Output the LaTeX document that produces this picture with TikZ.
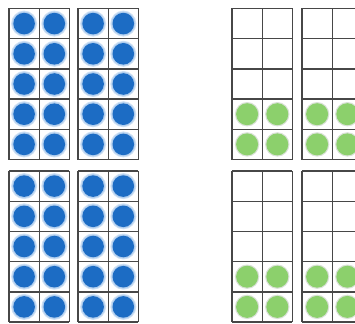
\documentclass[tikz,border=0pt]{standalone}
\begin{document}
\begin{tikzpicture}[x=1pt,y=-1pt,
  gridline/.style={draw=black!72,line width=1.4pt},
  bluedot/.style={fill={rgb,255:red,28;green,108;blue,196}},
  bluehalo/.style={fill={rgb,255:red,120;green,170;blue,225},opacity=0.35},
  greenhalo/.style={fill={rgb,255:red,180;green,195;blue,175},opacity=0.5},
  greendot/.style={fill={rgb,255:red,140;green,208;blue,108}}]
\useasboundingbox (0,0) rectangle (355,323);
\clip (0,0) rectangle (355,323);
\def\cw{30.2}
\def\ch{30.2}
% blue frames
\foreach \fx in {9,78}{
  \foreach \fy in {8.5,171}{
    \foreach \i in {0,1}{
      \foreach \j in {0,...,4}{
        \fill[bluehalo] ({\fx+(\i+0.5)*\cw},{\fy+(\j+0.5)*\ch}) circle (13);
        \fill[bluehalo] ({\fx+(\i+0.5)*\cw},{\fy+(\j+0.5)*\ch}) circle (12);
        \fill[bluedot] ({\fx+(\i+0.5)*\cw},{\fy+(\j+0.5)*\ch}) circle (10.8);
      }
    }
    \foreach \i in {0,1,2}{
      \draw[gridline] ({\fx+\i*\cw},\fy) -- ({\fx+\i*\cw},{\fy+5*\ch});
    }
    \foreach \j in {0,...,5}{
      \draw[gridline] (\fx,{\fy+\j*\ch}) -- ({\fx+2*\cw},{\fy+\j*\ch});
    }
  }
}
% green frames
\foreach \fx in {232,302}{
  \foreach \fy in {8.5,171}{
    \foreach \i in {0,1}{
      \foreach \j in {3,4}{
        \fill[greenhalo] ({\fx+(\i+0.5)*\cw},{\fy+(\j+0.5)*\ch}) circle (12.2);
        \fill[greendot] ({\fx+(\i+0.5)*\cw},{\fy+(\j+0.5)*\ch}) circle (11);
      }
    }
    \foreach \i in {0,1,2}{
      \draw[gridline] ({\fx+\i*\cw},\fy) -- ({\fx+\i*\cw},{\fy+5*\ch});
    }
    \foreach \j in {0,...,5}{
      \draw[gridline] (\fx,{\fy+\j*\ch}) -- ({\fx+2*\cw},{\fy+\j*\ch});
    }
  }
}
\end{tikzpicture}
\end{document}
